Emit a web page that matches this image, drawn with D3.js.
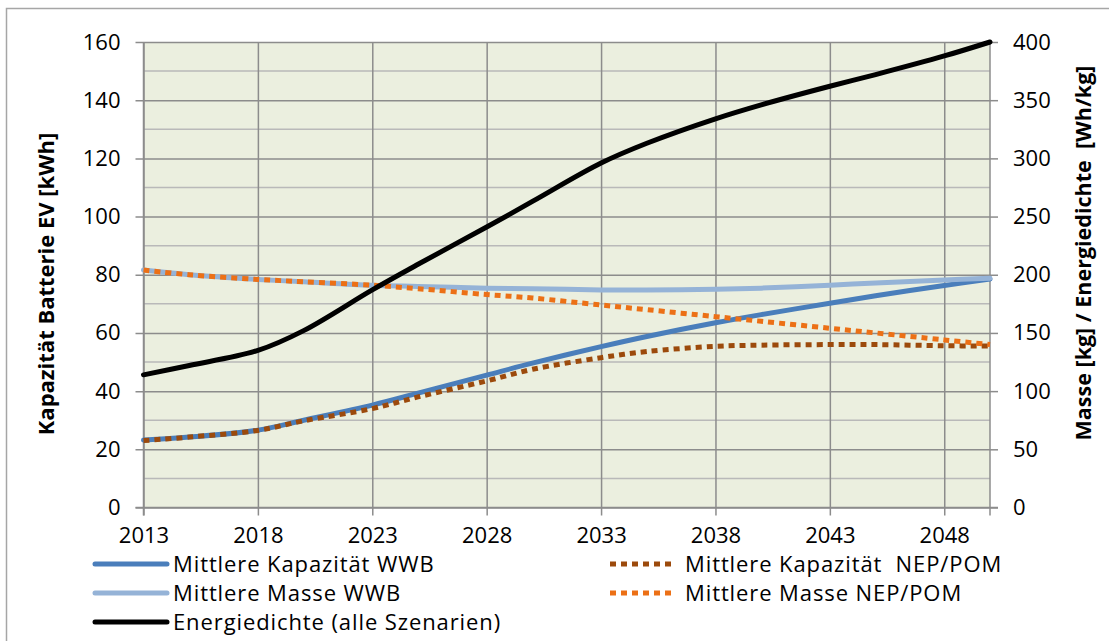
<!DOCTYPE html>
<html><head><meta charset="utf-8">
<script src="https://cdn.jsdelivr.net/npm/d3@7"></script>
<style>body{margin:0;background:#fff}svg{display:block}text{font-family:"Open Sans",sans-serif}</style>
</head><body><svg id="c" width="1109" height="641"></svg>
<script>
const years = [2013,2015,2018,2020,2023,2025,2028,2030,2033,2035,2038,2040,2043,2045,2048,2050];
const kapWWB = [23.2,24.2,26.6,30,35.2,39.3,45.5,49.6,55.3,58.8,63.5,66.3,70.2,72.8,76.3,78.5];
const kapNEP = [23,24.2,26.5,29.8,34,38,43.5,47.5,51.5,53.6,55.4,55.8,56,56,55.6,55.5];
const masseWWB = [204,200,196,194,191,190,188.5,188,187,187,187.5,188.5,191,193,195.5,197];
const masseNEP = [204,200,196,194,191,188,183,180,174,170,164,160,154,150,144,140];
const energie = [114,122,135,152,187,209,241,263,296,313,334,346,362,372,388,400];
const xTicks = [2013,2018,2023,2028,2033,2038,2043,2048];
const leftTicks = [0,20,40,60,80,100,120,140,160];
const rightTicks = [0,50,100,150,200,250,300,350,400];
const seriesNames = ["Mittlere Kapazität WWB","Mittlere Kapazität  NEP/POM","Mittlere Masse WWB","Mittlere Masse NEP/POM","Energiedichte (alle Szenarien)"];

const svg = d3.select("#c");
const L=143.5, R=990, T=42, B=507.5;
const x = d3.scaleLinear().domain([2013,2050]).range([L,R]);
const yL = d3.scaleLinear().domain([0,160]).range([B,T]);
const yR = d3.scaleLinear().domain([0,400]).range([B,T]);

// outer frame
svg.append("rect").attr("x",6.5).attr("y",8.5).attr("width",1120).attr("height",660)
  .attr("fill","none").attr("stroke","#a6a6a6").attr("stroke-width",1.5);

svg.append("rect").attr("x",L).attr("y",T).attr("width",R-L).attr("height",B-T).attr("fill","#ebefdf");

// minor gridlines
const minor = d3.range(10,160,20);
svg.append("g").selectAll("line").data(minor).join("line")
  .attr("x1",L).attr("x2",R).attr("y1",d=>yL(d)).attr("y2",d=>yL(d))
  .attr("stroke","#b9b9b9").attr("stroke-width",1.5);

// major gridlines via axes
const gL = svg.append("g").attr("transform",`translate(${L},0)`)
  .call(d3.axisLeft(yL).tickValues(leftTicks).tickSize(8).tickSizeInner(-(R-L)).tickPadding(0));
gL.selectAll(".tick line").attr("stroke","#8c8c8c").attr("stroke-width",1.5).attr("x1",-8);
gL.select(".domain").remove();
gL.selectAll("text").attr("x",-23).attr("font-size",22).attr("fill","#000");

const gR = svg.append("g").attr("transform",`translate(${R},0)`)
  .call(d3.axisRight(yR).tickValues(rightTicks).tickSize(8));
gR.selectAll(".tick line").attr("stroke","#8c8c8c").attr("stroke-width",1.5);
gR.select(".domain").remove();
gR.selectAll("text").attr("x",23).attr("font-size",22).attr("fill","#000");

const gX = svg.append("g").attr("transform",`translate(0,${B})`)
  .call(d3.axisBottom(x).tickValues(xTicks).tickFormat(d3.format("d")).tickSizeInner(-(B-T)).tickSizeOuter(0));
gX.selectAll(".tick line").attr("stroke","#8c8c8c").attr("stroke-width",1.5).attr("y1",8);
gX.select(".domain").remove();
gX.selectAll("text").attr("y",20).attr("font-size",22).attr("fill","#000");

// axis lines
svg.append("line").attr("x1",L).attr("x2",L).attr("y1",T).attr("y2",B+8).attr("stroke","#8c8c8c").attr("stroke-width",1.5);
svg.append("line").attr("x1",R).attr("x2",R).attr("y1",T).attr("y2",B+8).attr("stroke","#8c8c8c").attr("stroke-width",1.5);
svg.append("line").attr("x1",L-8).attr("x2",R+8).attr("y1",B).attr("y2",B).attr("stroke","#8c8c8c").attr("stroke-width",1.5);

const styles = [
  {data:kapWWB, y:yL, color:"#4a7ebb", dash:null},
  {data:kapNEP, y:yL, color:"#9c4a0c", dash:"6,5"},
  {data:masseWWB, y:yR, color:"#95b3d7", dash:null},
  {data:masseNEP, y:yR, color:"#ec7016", dash:"6,5"},
  {data:energie, y:yR, color:"#000000", dash:null},
];
styles.forEach(s=>{
  const line = d3.line().x((d,i)=>x(years[i])).y(d=>s.y(d)).curve(d3.curveCatmullRom.alpha(0.5));
  svg.append("path").datum(s.data).attr("d",line).attr("fill","none")
    .attr("stroke",s.color).attr("stroke-width",5).attr("stroke-linecap",s.dash?"butt":"round")
    .attr("stroke-dasharray",s.dash);
});

// axis titles
svg.append("text").attr("transform","translate(54,284) rotate(-90)").attr("text-anchor","middle")
  .attr("font-weight","bold").attr("font-size",22).attr("fill","#000").text("Kapazität Batterie EV [kWh]");
svg.append("text").attr("transform","translate(1091,253) rotate(-90)").attr("text-anchor","middle")
  .attr("font-weight","bold").attr("font-size",21.5).attr("fill","#000").style("white-space","pre")
  .text("Masse [kg] / Energiedichte  [Wh/kg]");

// legend
const legPos = [[95,564],[610,564],[95,593],[610,593],[95,622]];
legPos.forEach((p,i)=>{
  const s = styles[i];
  const g = svg.append("g");
  g.append("line").attr("x1",p[0]).attr("x2",p[0]+(s.dash?63:72)).attr("y1",p[1]).attr("y2",p[1])
    .attr("stroke",s.color).attr("stroke-width",5).attr("stroke-linecap",s.dash?"butt":"round").attr("stroke-dasharray",s.dash);
  g.append("text").attr("x",s.dash?685:173).attr("y",p[1]).attr("dy","0.35em").attr("font-size",22)
    .attr("letter-spacing",0.9).style("white-space","pre").attr("fill","#000").text(seriesNames[i]);
});
</script></body></html>
